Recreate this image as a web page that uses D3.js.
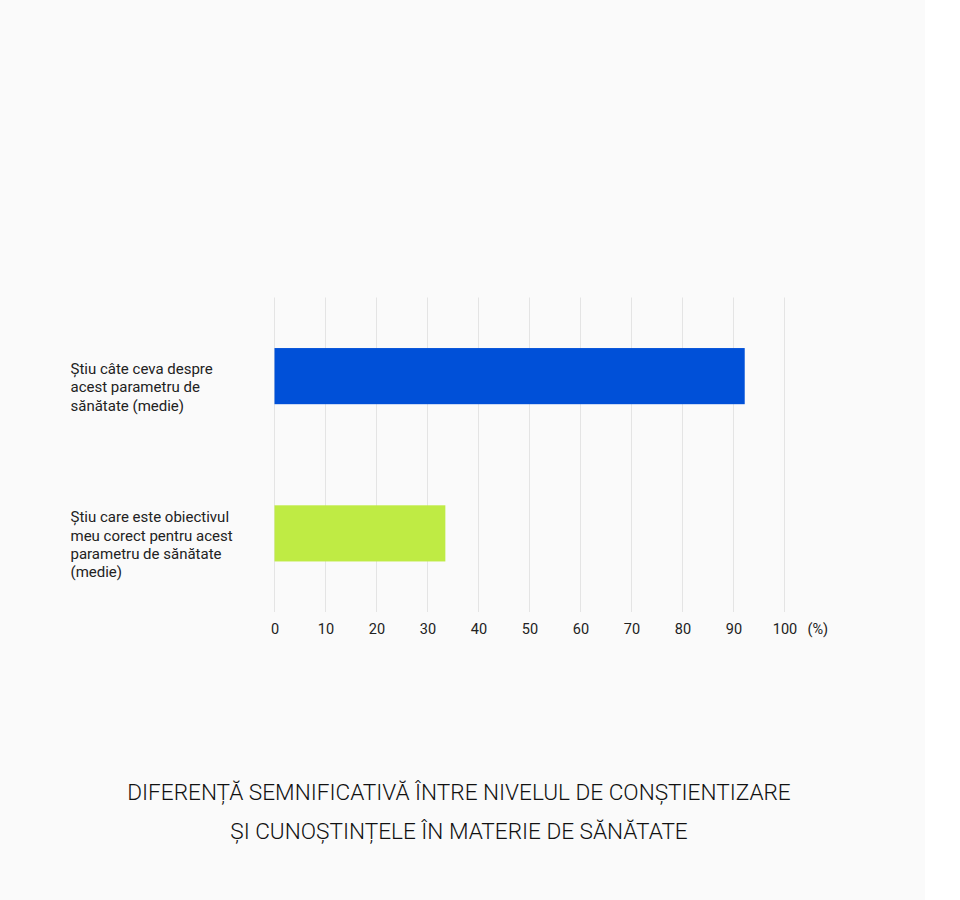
<!DOCTYPE html>
<html>
<head>
<meta charset="utf-8">
<script src="https://cdn.jsdelivr.net/npm/d3@7"></script>
<style>
  body { margin: 0; background: #ffffff; }
  svg { display: block; }
</style>
</head>
<body>
<svg id="chart"></svg>
<script>
// data
const categories = [
    ['Știu câte ceva despre', 'acest parametru de', 'sănătate (medie)'],
    ['Știu care este obiectivul', 'meu corect pentru acest', 'parametru de sănătate', '(medie)']
];
const values = [92.2, 33.5];
const colors = ['#0050d8', '#bfeb44'];
const xTicks = [0, 10, 20, 30, 40, 50, 60, 70, 80, 90, 100];
const unitLabel = '(%)';
const titleLines = [
    'DIFERENȚĂ SEMNIFICATIVĂ ÎNTRE NIVELUL DE CONȘTIENTIZARE',
    'ȘI CUNOȘTINȚELE ÎN MATERIE DE SĂNĂTATE'
];

const width = 960, height = 900;
const margin = {top: 297.5, left: 274.5, right: 175.5, bottom: 288};

const svg = d3.select('#chart')
    .attr('width', width)
    .attr('height', height);

// page background (stops a bit short of the right edge)
svg.append('rect')
    .attr('width', 925)
    .attr('height', height)
    .attr('fill', '#fafafa');

const x = d3.scaleLinear()
    .domain([0, 100])
    .range([margin.left, width - margin.right]);

const y = d3.scaleBand()
    .domain(d3.range(values.length))
    .range([margin.top, height - margin.bottom])
    .paddingInner(0.643)
    .paddingOuter(0.3215);

// grid
svg.append('g')
    .selectAll('line')
    .data(xTicks)
    .join('line')
    .attr('x1', d => x(d))
    .attr('x2', d => x(d))
    .attr('y1', margin.top)
    .attr('y2', height - margin.bottom)
    .attr('stroke', '#e4e4e4')
    .attr('stroke-width', 1);

// bars
svg.append('g')
    .selectAll('rect')
    .data(values)
    .join('rect')
    .attr('x', x(0))
    .attr('y', (d, i) => y(i))
    .attr('width', d => x(d) - x(0))
    .attr('height', y.bandwidth())
    .attr('fill', (d, i) => colors[i]);

// x axis
const axisY = height - margin.bottom + 12;
const xAxis = g => g.attr('transform', `translate(0,${axisY})`)
    .call(d3.axisBottom(x).tickValues(xTicks).tickSize(0).tickPadding(0))
    .call(g => g.select('.domain').remove())
    .call(g => g.selectAll('text')
        .attr('fill', '#222')
        .attr('font-family', 'Roboto, sans-serif')
        .attr('font-size', 14.5));
svg.append('g').call(xAxis);

svg.append('text')
    .attr('x', x(100) + 23)
    .attr('y', axisY + 10)
    .attr('fill', '#222')
    .attr('font-family', 'Roboto, sans-serif')
    .attr('font-size', 14.5)
    .attr('text-anchor', 'start')
    .text(unitLabel);

// category labels
const labels = svg.append('g')
    .attr('font-family', 'Roboto, sans-serif')
    .attr('font-size', 15)
    .attr('fill', '#222');

categories.forEach((lines, i) => {
    const cy = y(i) + y.bandwidth() / 2 + 16;
    const t = labels.append('text')
        .attr('x', 70.5)
        .attr('y', cy - (lines.length - 1) * 9);
    t.selectAll('tspan')
        .data(lines)
        .join('tspan')
        .attr('x', 70.5)
        .attr('dy', (d, j) => j === 0 ? 0 : 18.2)
        .text(d => d);
});

// title
svg.append('g')
    .attr('font-family', 'Roboto, sans-serif')
    .attr('font-weight', 300)
    .attr('font-size', 22.6)
    .attr('fill', '#111')
    .attr('text-anchor', 'middle')
    .selectAll('text')
    .data(titleLines)
    .join('text')
    .attr('x', 459)
    .attr('y', (d, i) => 800 + i * 39)
    .text(d => d);
</script>
</body>
</html>
